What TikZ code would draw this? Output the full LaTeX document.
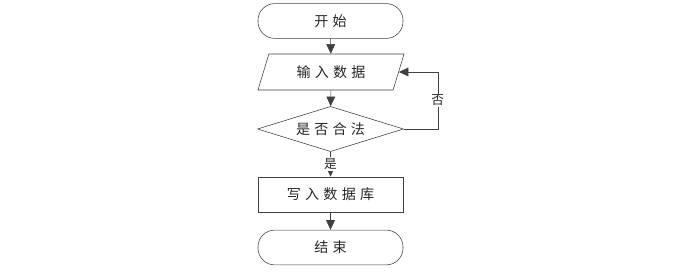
\documentclass[tikz,border=0pt]{standalone}
\usepackage{fontspec}
\newfontfamily\cjk[LetterSpace=30]{Noto Sans CJK SC}
\newfontfamily\cjklabel{Noto Sans CJK SC}
\usetikzlibrary{shapes.geometric, arrows.meta, positioning}
\definecolor{linegray}{HTML}{404040}
\tikzset{
  font=\cjk\normalsize,
  every node/.style = {text=black!85},
  terminal/.style   = {rectangle, draw=linegray, rounded corners=0.42cm,
                       minimum width=3.625cm, minimum height=0.87cm},
  io/.style         = {trapezium, draw=linegray, trapezium left angle=64,
                       trapezium right angle=116, trapezium stretches body,
                       minimum width=3.65cm, minimum height=0.9cm},
  process/.style    = {rectangle, draw=linegray,
                       minimum width=3.625cm, minimum height=0.88cm},
  decision/.style   = {diamond, draw=linegray, inner sep=0pt, aspect=3.2,
                       minimum width=3.65cm, minimum height=1.13cm},
  arrow/.style      = {-{Triangle[length=2.4mm, width=2.2mm]}, draw=linegray},
  tag/.style        = {font=\cjklabel\small, fill=white, inner sep=1pt}
}
\begin{document}
\begin{tikzpicture}[x=0.025cm, y=-0.025cm]
  \useasboundingbox (0,0) rectangle (695,275);
  % flow from top to bottom
  \node[terminal] (start) at (330.5,21) {开始};
  \node[io]       (input) at (331,72)   {输入数据};
  \node[decision] (check) at (330.5,129) {是否合法};
  \node[process]  (write) at (330.5,194.5) {写入数据库};
  \node[terminal] (stop)  at (330.5,247.5) {结束};
  \draw[arrow] (start) -- (input);
  \draw[arrow] (input) -- (check);
  \draw[arrow] (check) -- node[tag] {是} (write);
  \draw[arrow] (write) -- (stop);
  % back to input when not valid
  \draw[arrow] (check.east) -- ++(34,0) |- node[tag, pos=0.25] {否} (input.east);
\end{tikzpicture}
\end{document}
